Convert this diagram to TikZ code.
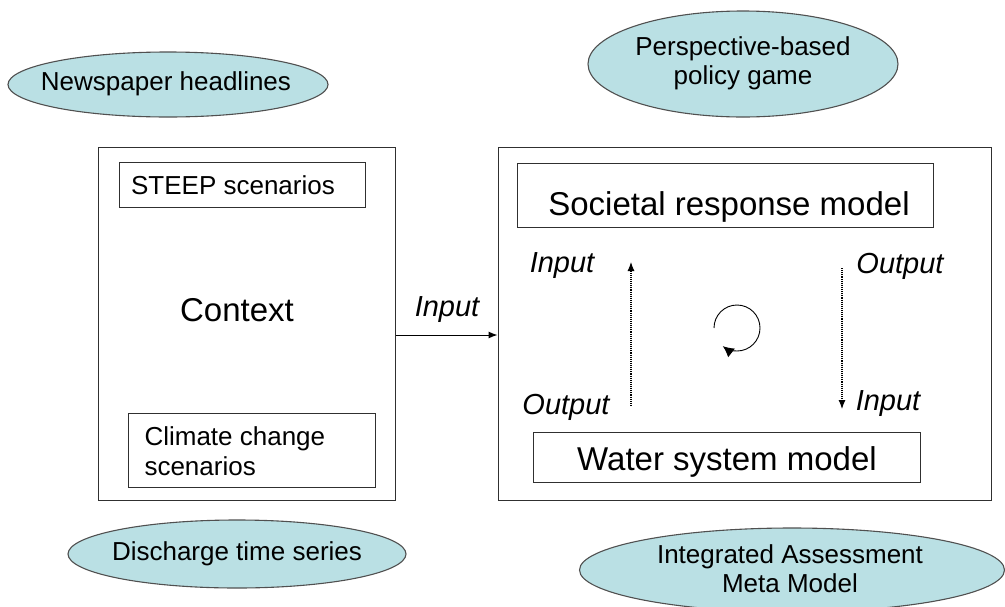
\documentclass[tikz,border=0pt]{standalone}
\usepackage{fontspec}
\setmainfont{Liberation Sans}
\usetikzlibrary{shapes.geometric,arrows.meta}
\definecolor{ellfill}{HTML}{BAE0E4}
\definecolor{ellline}{HTML}{505050}
\definecolor{boxline}{HTML}{303030}
\begin{document}
\begin{tikzpicture}[x=1pt,y=1pt,
  oval/.style={ellipse,draw=ellline,line width=1.1pt,fill=ellfill,inner sep=0pt},
  ovaltxt/.style={align=center,inner sep=0pt,font=\fontsize{26}{29}\selectfont},
  frame/.style={draw=boxline,line width=1pt,inner sep=0pt},
  smalltxt/.style={font=\fontsize{26}{30}\selectfont},
  bigtxt/.style={font=\fontsize{33}{38}\selectfont},
  lbl/.style={font=\fontsize{29}{33}\selectfont\itshape},
  dotarrow/.style={densely dotted,line width=1.1pt,-{Latex[length=9pt,width=7pt]}}]
\useasboundingbox (0,0) rectangle (1005,-606);
% ellipses
\node[oval,minimum width=320,minimum height=65] (news) at (168,-84.5) {};
\node[ovaltxt] (newst) at (166,-84) {Newspaper headlines};
\node[oval,minimum width=310,minimum height=106] (persp) at (743,-64) {};
\node[ovaltxt] (perspt) at (743,-63) {Perspective-based\\policy game};
\node[oval,minimum width=338,minimum height=68] (disch) at (237,-554) {};
\node[ovaltxt] (discht) at (237,-554) {Discharge time series};
\node[oval,minimum width=425,minimum height=84] (iamm) at (792,-570) {};
\node[ovaltxt] (iammt) at (790,-569) {Integrated Assessment\\Meta Model};
% left box
\node[frame,minimum width=297,minimum height=353] (ctx) at (246.5,-323.5) {};
\node[frame,minimum width=246,minimum height=45] (steep) at (242,-184.5) {};
\node[smalltxt] (steept) at (233,-185) {STEEP scenarios};
\node[frame,minimum width=247,minimum height=74] (clim) at (251.5,-450) {};
\node[smalltxt,align=left,anchor=west] (climt) at (141,-451) {Climate change\\scenarios};
\node[bigtxt] (ctxt) at (237,-310) {Context};
% right box
\node[frame,minimum width=493,minimum height=353] (rbox) at (744.5,-323.5) {};
\node[frame,minimum width=416,minimum height=64] (soc) at (725,-195) {};
\node[bigtxt] (soct) at (729,-207) {Societal response model};
\node[frame,minimum width=387,minimum height=50] (wat) at (726.5,-457) {};
\node[bigtxt] (watt) at (727,-462) {Water system model};
% main arrow
\draw[line width=1pt,-{Latex[length=9pt,width=7pt]}] ([yshift=-11.5pt]ctx.east) -- ([yshift=-11.5pt]rbox.west);
\node[lbl] (inmain) at (447,-310) {Input};
% loop arrows
\coordinate (upS) at (631,-406);
\coordinate (upE) at (631,-262);
\draw[dotarrow] (upS) -- (upE);
\coordinate (dnS) at (842,-268);
\coordinate (dnE) at (842,-409);
\draw[dotarrow] (dnS) -- (dnE);
\node[lbl] (inL) at (562,-266) {Input};
\node[lbl] (outL) at (566,-407) {Output};
\node[lbl] (outR) at (900,-266) {Output};
\node[lbl] (inR) at (888,-404) {Input};
% cycle
\coordinate (cyc) at (737,-328);
\draw[line width=0.9pt,-{Latex[length=11pt,width=11pt]}] ([shift={(180:23)}]cyc) arc (180:-128:23);
\end{tikzpicture}
\end{document}
